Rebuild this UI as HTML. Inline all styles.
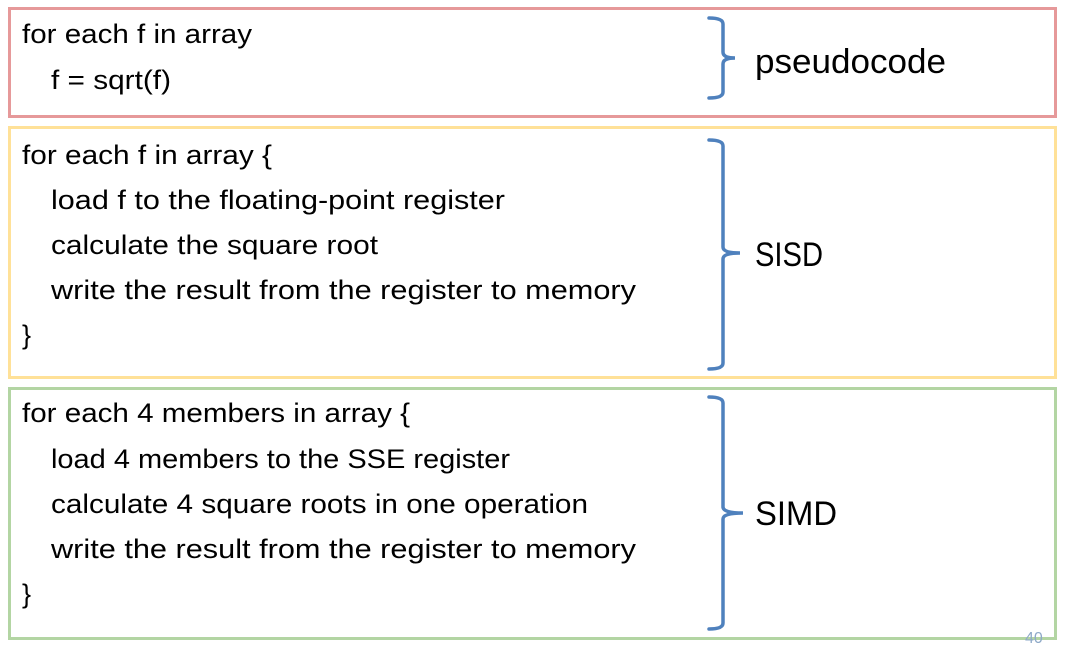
<!DOCTYPE html>
<html><head><meta charset="utf-8"><style>
html,body{margin:0;padding:0;background:#fff;}
svg{display:block;}
text{font-family:"Liberation Sans",sans-serif;fill:#000;}
.c{font-size:27px;}
.l{font-size:34px;}
</style></head><body>
<svg width="1065" height="647" viewBox="0 0 1065 647" xmlns="http://www.w3.org/2000/svg">
<rect x="9.5" y="8.5" width="1046" height="108" fill="none" stroke="#E6999A" stroke-width="3"/>
<rect x="9.5" y="127.5" width="1046" height="250" fill="none" stroke="#FFE198" stroke-width="3"/>
<rect x="9.5" y="388.5" width="1046" height="250" fill="none" stroke="#B3D5A3" stroke-width="3"/>

<g fill="none" stroke="#4F81BD" stroke-width="3.5" stroke-linecap="round">
<path d="M709 18 Q723 18 723 24 L723 52 Q723 58 735 58 Q723 58 723 64 L723 92 Q723 98 709 98"/>
<path d="M709 140 Q723 140 723 146 L723 247 Q723 253 740 253 Q723 253 723 259 L723 363 Q723 369 709 369"/>
<path d="M709 397 Q723 397 723 403 L723 507 Q723 513 743 513 Q723 513 723 519 L723 623 Q723 629 709 629"/>
</g>

<text class="c" x="22" y="43" textLength="230" lengthAdjust="spacingAndGlyphs">for each f in array</text>
<text class="c" x="51" y="89" textLength="120" lengthAdjust="spacingAndGlyphs">f = sqrt(f)</text>

<text class="c" x="22" y="164" textLength="250" lengthAdjust="spacingAndGlyphs">for each f in array {</text>
<text class="c" x="51" y="209" textLength="454" lengthAdjust="spacingAndGlyphs">load f to the floating-point register</text>
<text class="c" x="51" y="254" textLength="327" lengthAdjust="spacingAndGlyphs">calculate the square root</text>
<text class="c" x="51" y="299" textLength="585" lengthAdjust="spacingAndGlyphs">write the result from the register to memory</text>
<text class="c" x="22" y="344">}</text>

<text class="c" x="22" y="422" textLength="388" lengthAdjust="spacingAndGlyphs">for each 4 members in array {</text>
<text class="c" x="51" y="468" textLength="459" lengthAdjust="spacingAndGlyphs">load 4 members to the SSE register</text>
<text class="c" x="51" y="513" textLength="537" lengthAdjust="spacingAndGlyphs">calculate 4 square roots in one operation</text>
<text class="c" x="51" y="558" textLength="585" lengthAdjust="spacingAndGlyphs">write the result from the register to memory</text>
<text class="c" x="22" y="603">}</text>

<text class="l" x="755" y="73" textLength="191" lengthAdjust="spacingAndGlyphs">pseudocode</text>
<text class="l" x="755" y="266" textLength="68" lengthAdjust="spacingAndGlyphs">SISD</text>
<text class="l" x="755" y="525" textLength="82" lengthAdjust="spacingAndGlyphs">SIMD</text>

<text x="1025" y="643" style="font-size:16px;fill:#8EA9C8;">40</text>
</svg>
</body></html>
